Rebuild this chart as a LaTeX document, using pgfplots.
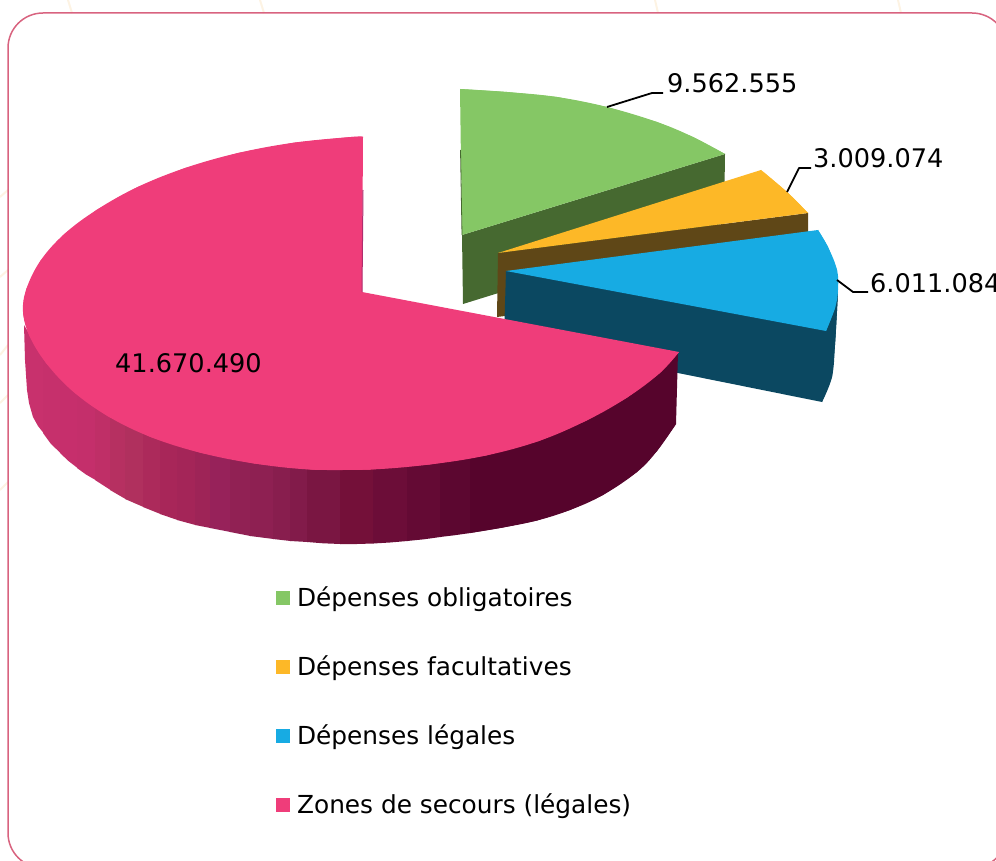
\documentclass[border=0pt]{standalone}
\usepackage{pgfplots}
\pgfplotsset{compat=1.18}
\usepackage{fontspec}
\setmainfont{DejaVu Sans}
\definecolor{gtop}{HTML}{85C765}\definecolor{gwall}{HTML}{466930}
\definecolor{ytop}{HTML}{FDB827}\definecolor{ywall}{HTML}{5F4717}
\definecolor{btop}{HTML}{17ABE3}\definecolor{bwall}{HTML}{0B4861}
\definecolor{ptop}{HTML}{EF3D7A}\definecolor{pdark}{HTML}{56042C}
\definecolor{psliver}{HTML}{B02D6E}
\definecolor{frame}{HTML}{D8637F}\definecolor{cream}{HTML}{FDF3E3}
\begin{document}
\begin{tikzpicture}
\begin{axis}[
  at={(0pt,0pt)},anchor=south west,scale only axis,width=996pt,height=861pt,
  xmin=0,xmax=996,ymin=0,ymax=861,y dir=reverse,hide axis,
  legend style={draw=none,fill=none,at={(axis cs:276,585)},anchor=north west,inner sep=0pt,outer sep=0pt,
    font=\fontsize{24.8}{30}\selectfont,row sep=43.7pt,/tikz/every odd column/.append style={column sep=5.5pt}},
  legend cell align=left,
  legend image code/.code={\fill[#1,draw=none,sharp plot] (0pt,-7pt) rectangle (13.6pt,6.6pt);},
  every axis plot/.append style={draw=none,mark=none}
]
% background marks and frame
\draw[cream,line width=2pt] (68,0)--(72,13) (260,0)--(264,13) (655,0)--(658,13) (898,0)--(901,13)
  (0,197)--(8,190) (0,277)--(8,270) (0,355)--(8,345) (0,403)--(8,395) (0,490)--(8,482);
\draw[frame,line width=1.5pt,rounded corners=35pt] (8,13) rectangle (1007,868);
% green
\addplot[fill=gwall,forget plot] coordinates {(462,235)(725,154)(724,223)(463,304)};
\addplot[fill=gtop,forget plot] coordinates {(462,235)(725,154)(693,137)(657,122)(607,107)(557,97)(507,92)(460,89)};
\addplot[smooth,tension=0.62,fill=gtop] coordinates {(725,154)(693,137)(657,122)(607,107)(557,97)(507,92)(460,89)};
\addlegendentry{Dépenses obligatoires}
\draw[gwall,line width=0.8pt] (460.5,150)--(462,235);
% yellow
\addplot[fill=ywall,forget plot] coordinates {(498,253)(808,213)(808,277)(497,317)};
\addplot[fill=ytop,forget plot] coordinates {(498,253)(761,170)(787,192)(808,213)};
\addplot[smooth,tension=0.62,fill=ytop] coordinates {(761,170)(787,192)(808,213)};
\addlegendentry{Dépenses facultatives}
% blue
\addplot[fill=bwall,forget plot] coordinates {(506,271)(838,292)(836.5,320)(835,345)(832,377)(822,402)(504,338)};
\addplot[smooth,tension=0.62,fill=bwall,forget plot] coordinates {(838,292)(836.5,320)(835,345)(832,377)(822,402)};
\addplot[fill=btop,forget plot] coordinates {(506,271)(818,230)(828,247)(837,270)(838,290)(835,308)(826,331)};
\addplot[smooth,tension=0.62,fill=btop] coordinates {(818,230)(828,247)(837,270)(838,290)(835,308)(826,331)};
\addlegendentry{Dépenses légales}
% pink wall: bands of the side, then the dark part
\addplot[fill={rgb,255:red,200;green,49;blue,109},forget plot] coordinates {(24,325)(43.5,358)(43.5,433)(38,426)(33,417)(29,403)(27,390)(25,360)};
\addplot[fill={rgb,255:red,198;green,48;blue,108},forget plot] coordinates {(43,358)(60.5,377)(60.5,453)(51,444)(43,433)};
\addplot[fill={rgb,255:red,198;green,47;blue,108},forget plot] coordinates {(60,377)(77.5,392)(77.5,468)(68.5,461)(60,453)};
\addplot[fill={rgb,255:red,196;green,47;blue,107},forget plot] coordinates {(77,392)(95.5,405)(95.5,480)(86,474.5)(77,468)};
\addplot[fill={rgb,255:red,191;green,47;blue,103},forget plot] coordinates {(95,405)(110.5,415)(110.5,490)(95,480)};
\addplot[fill={rgb,255:red,182;green,48;blue,97},forget plot] coordinates {(110,415)(125.5,424)(125.5,499)(110,490)};
\addplot[fill={rgb,255:red,176;green,48;blue,94},forget plot] coordinates {(125,424)(143.5,433)(143.5,507)(125,499)};
\addplot[fill={rgb,255:red,172;green,42;blue,91},forget plot] coordinates {(143,433)(160.5,439)(160.5,514)(143,507)};
\addplot[fill={rgb,255:red,168;green,38;blue,89},forget plot] coordinates {(160,439)(177.5,445)(177.5,520)(160,514)};
\addplot[fill={rgb,255:red,164;green,37;blue,88},forget plot] coordinates {(177,445)(195.5,449)(195.5,525)(177,520)};
\addplot[fill={rgb,255:red,158;green,36;blue,87},forget plot] coordinates {(195,449)(210.5,453)(210.5,528)(195,525)};
\addplot[fill={rgb,255:red,151;green,34;blue,90},forget plot] coordinates {(210,453)(230.5,456)(230.5,532)(210,528)};
\addplot[fill={rgb,255:red,145;green,33;blue,84},forget plot] coordinates {(230,456)(250.5,460)(250.5,536)(230,532)};
\addplot[fill={rgb,255:red,142;green,32;blue,82},forget plot] coordinates {(250,460)(273.5,463)(273.5,539)(250,536)};
\addplot[fill={rgb,255:red,136;green,30;blue,78},forget plot] coordinates {(273,463)(290.5,465)(290.5,541)(273,539)};
\addplot[fill={rgb,255:red,130;green,27;blue,74},forget plot] coordinates {(290,465)(307.5,467)(307.5,542)(290,541)};
\addplot[fill={rgb,255:red,122;green,22;blue,66},forget plot] coordinates {(307,467)(340.5,468)(340.5,544)(323,543.3)(307,542)};
\addplot[fill={rgb,255:red,116;green,16;blue,57},forget plot] coordinates {(340,468)(373.5,467)(373.5,543.5)(357,544)(340,544)};
\addplot[fill={rgb,255:red,108;green,13;blue,56},forget plot] coordinates {(373,467)(407.5,465)(407.5,541)(390,542.5)(373,543.5)};
\addplot[fill={rgb,255:red,100;green,10;blue,52},forget plot] coordinates {(407,465)(440.5,461)(440.5,537)(424,539.3)(407,541)};
\addplot[fill={rgb,255:red,92;green,7;blue,48},forget plot] coordinates {(440,461)(470.5,457)(470.5,533)(455,535.2)(440,537)};
\addplot[fill=pdark,forget plot] coordinates {(470,457)(678,352)(676,424)(657,451)(637,472)(603,495)(570,510)(537,520.5)(503,527.5)(470,533)};
\addplot[smooth,tension=0.62,fill=pdark,forget plot] coordinates {(676,424)(657,451)(637,472)(603,495)(570,510)(537,520.5)(503,527.5)(470,533)};
% pink top
\addplot[fill=ptop,forget plot] coordinates {(362,292)(679,352)(659.9,373)(627.2,397.5)(586.6,420.5)(538.9,441)(486,455.5)(429.5,464.5)(370.6,469.5)(311.5,469.6)(254.2,463.5)(199.9,452.6)(150.6,437)(107.8,416.2)(72.7,391.2)(46.3,363.3)(29.6,336.2)(23,311.6)(26.6,288.4)(40.5,260.7)(64.1,234.2)(96.8,209.8)(137.4,187.1)(185.1,168)(238,153)(294.5,142.6)(353.4,136.8)(363,137)};
\addplot[smooth,tension=0.62,fill=ptop,forget plot] coordinates {(679,352)(659.9,373)(627.2,397.5)(586.6,420.5)(538.9,441)(486,455.5)(429.5,464.5)(370.6,469.5)(311.5,469.6)};
\addplot[smooth,tension=0.62,fill=ptop,forget plot] coordinates {(370.6,469.5)(311.5,469.6)(254.2,463.5)(199.9,452.6)(150.6,437)(107.8,416.2)(72.7,391.2)(46.3,363.3)(29.6,336.2)(23,311.6)(26.6,288.4)};
\addplot[smooth,tension=0.62,fill=ptop] coordinates {(29.6,336.2)(23,311.6)(26.6,288.4)(40.5,260.7)(64.1,234.2)(96.8,209.8)(137.4,187.1)(185.1,168)(238,153)(294.5,142.6)(353.4,136.8)(363,137)};
\addlegendentry{Zones de secours (légales)}
\draw[psliver,line width=1pt] (363,190)--(362,292);
% leader lines and values
\draw[black,line width=1.8pt,line join=round] (607,107)--(652,93)--(663,93);
\draw[black,line width=1.8pt,line join=round] (787,192)--(799,168)--(811,168);
\draw[black,line width=1.8pt,line join=round] (837,280)--(853,292)--(868,292);
\node[anchor=base west,inner sep=0pt,font=\fontsize{25.6}{30}\selectfont] at (667,93) {9.562.555};
\node[anchor=base west,inner sep=0pt,font=\fontsize{25.6}{30}\selectfont] at (813,168) {3.009.074};
\node[anchor=base west,inner sep=0pt,font=\fontsize{25.6}{30}\selectfont] at (870,292) {6.011.084};
\node[anchor=base west,inner sep=0pt,font=\fontsize{25.6}{30}\selectfont] at (115,372) {41.670.490};
\end{axis}
\pgfresetboundingbox
\useasboundingbox (0pt,0pt) rectangle (996pt,861pt);
\end{tikzpicture}
\end{document}
